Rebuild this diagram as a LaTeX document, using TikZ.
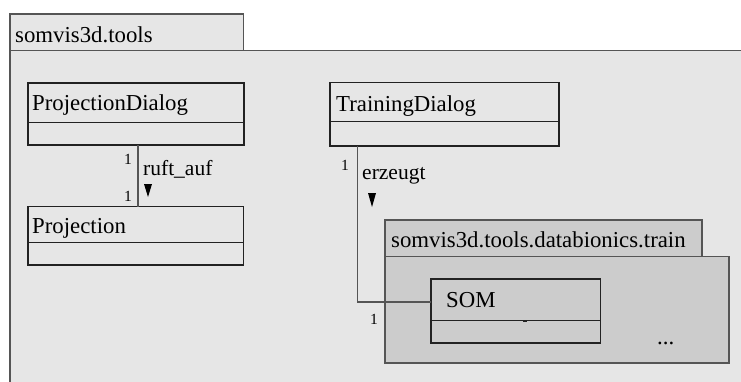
\documentclass[tikz,border=0pt]{standalone}
\usepackage{fontspec}
\setmainfont{Liberation Serif}
\definecolor{pkgouter}{HTML}{E6E6E6}
\definecolor{pkginner}{HTML}{CCCCCC}
\definecolor{pkgline}{HTML}{555555}
\definecolor{boxline}{HTML}{222222}
\definecolor{linkline}{HTML}{555555}
\begin{document}
\begin{tikzpicture}[x=1pt,y=-1pt,
  pkgbox/.style={draw=pkgline,line width=1.3pt},
  classbox/.style={draw=boxline,line width=1.2pt},
  title/.style={anchor=base west,inner sep=0pt,font=\fontsize{22.8}{24}\selectfont},
  role/.style={anchor=base west,inner sep=0pt,font=\fontsize{21.5}{23}\selectfont},
  mult/.style={anchor=base west,inner sep=0pt,font=\fontsize{15.5}{16}\selectfont},
  link/.style={draw=linkline,line width=1.2pt},
  tip/.style={fill=black}]
\useasboundingbox (0,0) rectangle (741,381);
\fill[white] (0,0) rectangle (741,381);

% outer package somvis3d.tools
\filldraw[pkgbox,fill=pkgouter] (10,14) rectangle (243.5,50.7);
\fill[pkgouter] (10,50.7) rectangle (745,385);
\draw[pkgbox] (10,390) -- (10,50.7) -- (750,50.7);
\node[title] (outertitle) at (15,42) {somvis3d.tools};

% ProjectionDialog
\draw[classbox] (28,83) rectangle (244,145);
\draw[classbox] (28,122.7) -- (244,122.7);
\node[title] (pd) at (32,110) {ProjectionDialog};
\coordinate (pdbot) at (138,145);

% Projection
\draw[classbox] (28,206.7) rectangle (243.5,265);
\draw[classbox] (28,242.7) -- (243.5,242.7);
\node[title] (pr) at (32,233) {Projection};
\coordinate (prtop) at (138,206.7);

% ruft_auf association
\draw[link] (pdbot) -- (prtop);
\node[mult] (m1) at (124,164) {1};
\node[mult] (m2) at (124,201) {1};
\node[role] (ruft) at (143,175) {ruft\_auf};
\coordinate (ruftip) at (148,184);
\fill[tip] (ruftip) ++(-4,0) -- ++(8,0) -- ++(-4,13) -- cycle;

% TrainingDialog
\draw[classbox] (330,82.7) rectangle (559,146);
\draw[classbox] (330,121.7) -- (559,121.7);
\node[title] (td) at (336,111.5) {TrainingDialog};
\coordinate (tdbot) at (357.7,146);

% inner package somvis3d.tools.databionics.train
\filldraw[pkgbox,fill=pkginner] (385,220) rectangle (702,256.7);
\filldraw[pkgbox,fill=pkginner] (385,256.7) rectangle (729,363);
\node[title] (innertitle) at (391,247) {somvis3d.tools.databionics.train};

% SOM
\draw[classbox] (431,279) rectangle (600.7,343);
\draw[classbox] (431,320.7) -- (600.7,320.7);
\draw[boxline,line width=2.4pt] (523,320.7) -- (527,320.7);
\node[title] (som) at (446,307) {SOM};
\coordinate (somw) at (431,302);
\node[title] (dots) at (657,344) {...};

% erzeugt association
\draw[link] (tdbot) |- (somw);
\node[mult] (m3) at (341,170) {1};
\node[mult] (m4) at (370,324) {1};
\node[role] (erz) at (362,179) {erzeugt};
\coordinate (erztip) at (372,193);
\fill[tip] (erztip) ++(-4,0) -- ++(8,0) -- ++(-4,14) -- cycle;
\end{tikzpicture}
\end{document}
